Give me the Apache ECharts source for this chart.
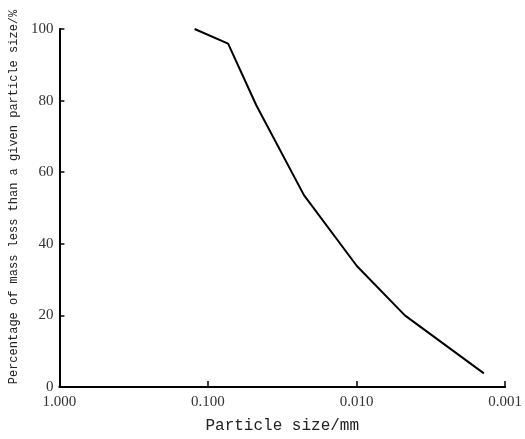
<!DOCTYPE html>
<html>

<head>
    <meta charset="utf-8">
    <script src="https://cdn.jsdelivr.net/npm/echarts@6/dist/echarts.min.js"></script>
</head>

<body style="margin:0;background:#fff;">
    <div id="main" style="width: 525px;height:439px;"></div>
    <script type="text/javascript">
        // particle size (mm) and percentage passing
        var sizes = [0.123, 0.0732, 0.0473, 0.0226, 0.00995, 0.00473, 0.00139];
        var passing = [100, 95.9, 78.7, 53.6, 33.8, 20.0, 3.8];

        var titleFont = 'Liberation Mono, DejaVu Sans Mono, monospace';
        var tickFont = 'Liberation Serif, DejaVu Serif, serif';

        var myChart = echarts.init(document.getElementById('main'));

        var option = {
            animation: false,
            grid: {
                left: 58,
                right: 18,
                top: 29,
                bottom: 46
            },
            xAxis: {
                type: 'log',
                logBase: 10,
                inverse: true,
                min: 0.001,
                max: 1,
                name: 'Particle size/mm',
                nameLocation: 'middle',
                nameGap: 31,
                nameTextStyle: {
                    fontFamily: titleFont,
                    fontSize: 16,
                    color: '#222'
                },
                axisLine: { lineStyle: { color: '#000', width: 2 } },
                axisTick: { inside: true, length: 6, lineStyle: { color: '#000', width: 1.5 } },
                axisLabel: {
                    margin: 8,
                    fontFamily: tickFont,
                    fontSize: 15,
                    color: '#333',
                    formatter: function (v) {
                        return v.toFixed(3);
                    }
                },
                splitLine: { show: false }
            },
            yAxis: {
                type: 'value',
                min: 0,
                max: 100,
                interval: 20,
                name: 'Percentage of mass less than a given particle size/%',
                nameLocation: 'middle',
                nameGap: 33,
                nameTextStyle: {
                    fontFamily: titleFont,
                    fontSize: 12,
                    color: '#222',
                    padding: [0, 0, 0, 22]
                },
                axisLine: { show: true, lineStyle: { color: '#000', width: 2 } },
                axisTick: { show: true, inside: true, length: 5, lineStyle: { color: '#000', width: 1.5 } },
                axisLabel: {
                    margin: 6,
                    fontFamily: tickFont,
                    fontSize: 15,
                    color: '#333'
                },
                splitLine: { show: false }
            },
            series: [{
                type: 'line',
                data: sizes.map(function (s, i) {
                    return [s, passing[i]];
                }),
                showSymbol: false,
                lineStyle: { color: '#000', width: 2 }
            }]
        };

        myChart.setOption(option);
    </script>
</body>

</html>
